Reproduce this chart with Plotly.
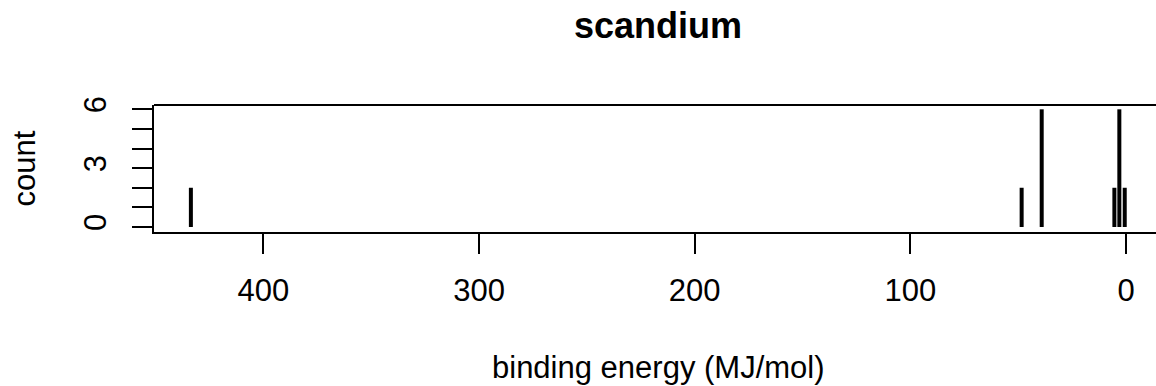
import plotly.graph_objects as go

title = "scandium"
x_label = "binding energy (MJ/mol)"
y_label = "count"
energies = [433.6, 48.4, 39.1, 5.4, 3.1, 0.6]
counts = [2, 2, 6, 2, 6, 2]
x_ticks = [400, 300, 200, 100, 0]
y_ticks = [0, 1, 2, 3, 4, 5, 6]
y_tick_text = ["0", "", "", "3", "", "", "6"]

xs, ys = [], []
for e, c in zip(energies, counts):
    xs += [e, e, None]
    ys += [0, c, None]

FONT = "Liberation Sans, Arial, Helvetica, sans-serif"
BASE = 31

fig = go.Figure()
fig.add_trace(go.Scatter(x=xs, y=ys, mode="lines",
                         line=dict(color="black", width=4),
                         hoverinfo="skip", showlegend=False))

fig.update_layout(
    width=1156, height=386,
    margin=dict(l=154, r=0, t=105, b=154, autoexpand=False),
    paper_bgcolor="white", plot_bgcolor="white",
    font=dict(family=FONT, size=BASE, color="black"),
    showlegend=False,
)
fig.update_xaxes(
    range=[450.7, -13.9], tickvals=x_ticks, ticktext=[str(t) for t in x_ticks],
    ticks="outside", ticklen=20, tickwidth=2, tickcolor="black",
    showline=True, linecolor="black", linewidth=2,
    showgrid=False, zeroline=False, ticklabelstandoff=10,
)
fig.update_yaxes(
    range=[-0.256, 6.22], tickvals=y_ticks, ticktext=y_tick_text,
    ticks="outside", ticklen=20, tickwidth=2, tickcolor="black",
    showline=True, linecolor="black", linewidth=2, tickangle=-90,
    showgrid=False, zeroline=False, ticklabelstandoff=14,
)
fig.add_shape(type="line", xref="paper", yref="paper", x0=0, x1=1, y0=1, y1=1,
              line=dict(color="black", width=2))

fig.add_annotation(text="<b>%s</b>" % title, xref="paper", yref="paper",
                   x=(658 - 154) / 1002, y=1, yanchor="middle", yshift=80,
                   showarrow=False, font=dict(size=36, family=FONT))
fig.add_annotation(text=x_label, xref="paper", yref="paper",
                   x=(658 - 154) / 1002, y=0, yanchor="middle", yshift=-135,
                   showarrow=False, font=dict(size=BASE, family=FONT))
fig.add_annotation(text=y_label, xref="paper", yref="paper",
                   x=0, y=0.5, xanchor="center", xshift=-130, textangle=-90,
                   showarrow=False, font=dict(size=BASE, family=FONT))

fig.write_html("out.html", config={"displayModeBar": False},
               post_script="document.body.style.margin='0';document.body.style.overflow='hidden';")
